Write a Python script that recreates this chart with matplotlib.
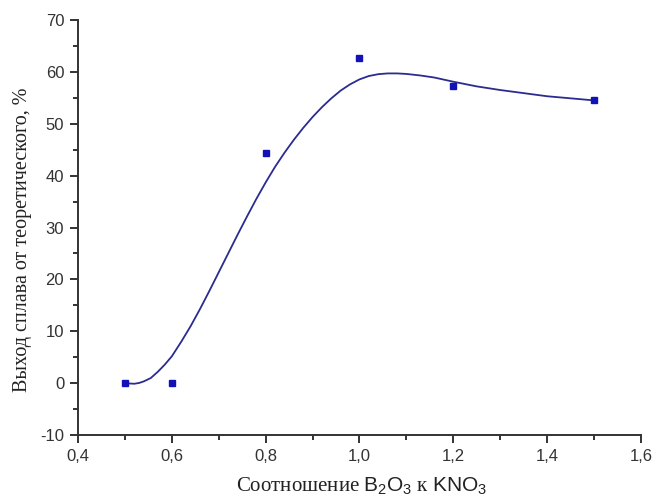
import matplotlib
matplotlib.use("Agg")
import matplotlib.pyplot as plt
from matplotlib.ticker import MultipleLocator, FuncFormatter

# measured points
x_pts = [0.5, 0.6, 0.8, 1.0, 1.2, 1.5]
y_pts = [0.0, 0.0, 44.3, 62.7, 57.3, 54.5]

# fitted curve, values
x_fit = [0.50, 0.51, 0.52, 0.53, 0.54, 0.555, 0.57, 0.585, 0.60, 0.62, 0.64, 0.66,
         0.68, 0.70, 0.72, 0.74, 0.76, 0.78, 0.80, 0.82, 0.84, 0.86, 0.88, 0.90,
         0.92, 0.94, 0.96, 0.98, 1.00, 1.02, 1.04, 1.06, 1.08, 1.10, 1.13, 1.16,
         1.20, 1.25, 1.30, 1.35, 1.40, 1.45, 1.50]
y_fit = [0.0, -0.05, -0.1, 0.05, 0.35, 1.0, 2.2, 3.6, 5.2, 8.0, 11.0, 14.3,
         17.8, 21.4, 25.0, 28.6, 32.1, 35.5, 38.7, 41.7, 44.4, 46.9, 49.2, 51.3,
         53.2, 54.9, 56.4, 57.6, 58.55, 59.2, 59.55, 59.7, 59.7, 59.6, 59.3, 58.9,
         58.1, 57.2, 56.5, 55.9, 55.3, 54.9, 54.5]

x_ticks = [0.4, 0.6, 0.8, 1.0, 1.2, 1.4, 1.6]
y_ticks = [-10, 0, 10, 20, 30, 40, 50, 60, 70]

plt.rcParams['mathtext.fontset'] = 'custom'
plt.rcParams['mathtext.sf'] = 'Liberation Sans'
plt.rcParams['mathtext.rm'] = 'Liberation Serif'

fig = plt.figure(figsize=(6.56, 4.99), dpi=100)
ax = fig.add_axes([0.119, 0.128, 0.858, 0.832])

ax.plot(x_fit, y_fit, color='#2b2b90', lw=1.3, solid_joinstyle='round')
ax.plot(x_pts, y_pts, ls='none', marker='s', ms=4.5, color='#1212b8')

ax.set_xlim(0.4, 1.6)
ax.set_ylim(-10, 70)
ax.set_xticks(x_ticks)
ax.set_yticks(y_ticks)
ax.xaxis.set_minor_locator(MultipleLocator(0.1))
ax.yaxis.set_minor_locator(MultipleLocator(5))
ax.xaxis.set_major_formatter(FuncFormatter(lambda v, p: f"{v:.1f}".replace('.', ',')))
ax.yaxis.set_major_formatter(FuncFormatter(lambda v, p: f"{v:.0f}"))

for s in ['top', 'right']:
    ax.spines[s].set_visible(False)
for s in ['left', 'bottom']:
    ax.spines[s].set_linewidth(1.4)
    ax.spines[s].set_color('#333333')

ax.tick_params(which='major', direction='out', length=6, width=1.4, color='#333333',
               labelsize=12, labelcolor='#333333', pad=4)
ax.tick_params(which='minor', direction='out', length=3.5, width=1.4, color='#333333')
for lab in ax.get_xticklabels() + ax.get_yticklabels():
    lab.set_family('Liberation Sans')

ax.set_ylabel('Выход сплава от теоретического, %', family='Liberation Serif',
              fontsize=14.5, color='#222222')
ax.yaxis.set_label_coords(-0.082, 0.47)
ax.set_xlabel(r'Соотношение $\mathsf{B_2O_3}$ к $\mathsf{KNO_3}$', family='Liberation Serif',
              fontsize=15, color='#222222')
ax.xaxis.set_label_coords(0.503, -0.098)

fig.savefig('out.png', dpi=100)
